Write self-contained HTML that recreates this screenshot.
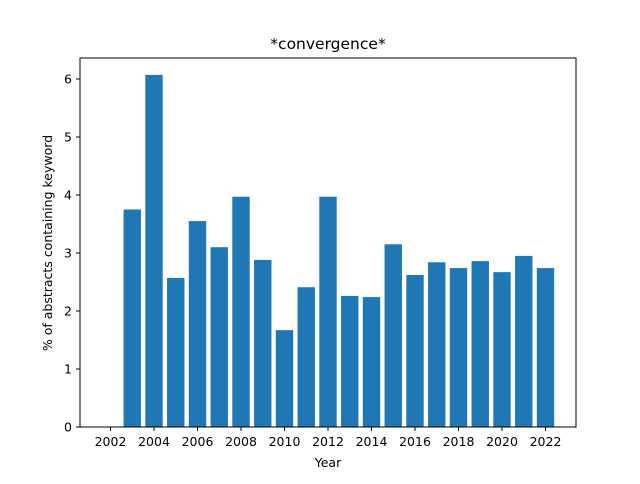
<!DOCTYPE html>
<html><head><meta charset="utf-8"><style>
body{margin:0;background:#fff;font-family:"DejaVu Sans","Liberation Sans",sans-serif}
</style></head><body>
<svg id="chart" width="640" height="480" xmlns="http://www.w3.org/2000/svg" font-family="DejaVu Sans, Liberation Sans, sans-serif">
<rect width="640" height="480" fill="#fff"/>
<g id="bars"></g>
<g id="axes"></g>
<text x="328" y="49" text-anchor="middle" font-size="15.5">*convergence*</text>
<text x="328" y="467" text-anchor="middle" font-size="12.5">Year</text>
<text transform="translate(52,243) rotate(-90)" text-anchor="middle" font-size="12.5">% of abstracts containing keyword</text>
</svg>
<script>
const years=[2003,2004,2005,2006,2007,2008,2009,2010,2011,2012,2013,2014,2015,2016,2017,2018,2019,2020,2021,2022];
const values=[3.75,6.07,2.57,3.55,3.10,3.97,2.88,1.67,2.41,3.97,2.26,2.24,3.15,2.62,2.84,2.74,2.86,2.67,2.95,2.74];
const xTicks=[2002,2004,2006,2008,2010,2012,2014,2016,2018,2020,2022];
const yTicks=[0,1,2,3,4,5,6];
const L=80,R=576,T=58,B=427;
const xs=v=>110.5+(v-2002)*21.75;
const ys=v=>B-v*58;
const NS="http://www.w3.org/2000/svg";
const bars=document.getElementById('bars'),axes=document.getElementById('axes');
function mk(tag,attrs,parent){const e=document.createElementNS(NS,tag);for(const k in attrs)e.setAttribute(k,attrs[k]);parent.appendChild(e);return e;}
years.forEach((yr,i)=>{
 const w=0.8*21.75;
 const r=mk('rect',{x:xs(yr)-w/2,y:ys(values[i]),width:w,height:B-ys(values[i]),fill:'#1f77b4'},bars);
 
 
});
const frame=mk('rect',{x:L,y:T,width:R-L,height:B-T,fill:'none',stroke:'#000','stroke-width':1},axes);


xTicks.forEach(t=>{
 const x=xs(t);
 mk('line',{x1:x,y1:B,x2:x,y2:B+4,stroke:'#000'},axes);
 const tx=mk('text',{x:x,y:B+19,'text-anchor':'middle','font-size':12.5},axes);
 tx.textContent=t;
 
 
});
yTicks.forEach(t=>{
 const y=ys(t);
 mk('line',{x1:L-4,y1:y,x2:L,y2:y,stroke:'#000'},axes);
 const tx=mk('text',{x:L-8,y:y+4.5,'text-anchor':'end','font-size':12.5},axes);
 tx.textContent=t;
 
 
});
</script>
</body></html>
